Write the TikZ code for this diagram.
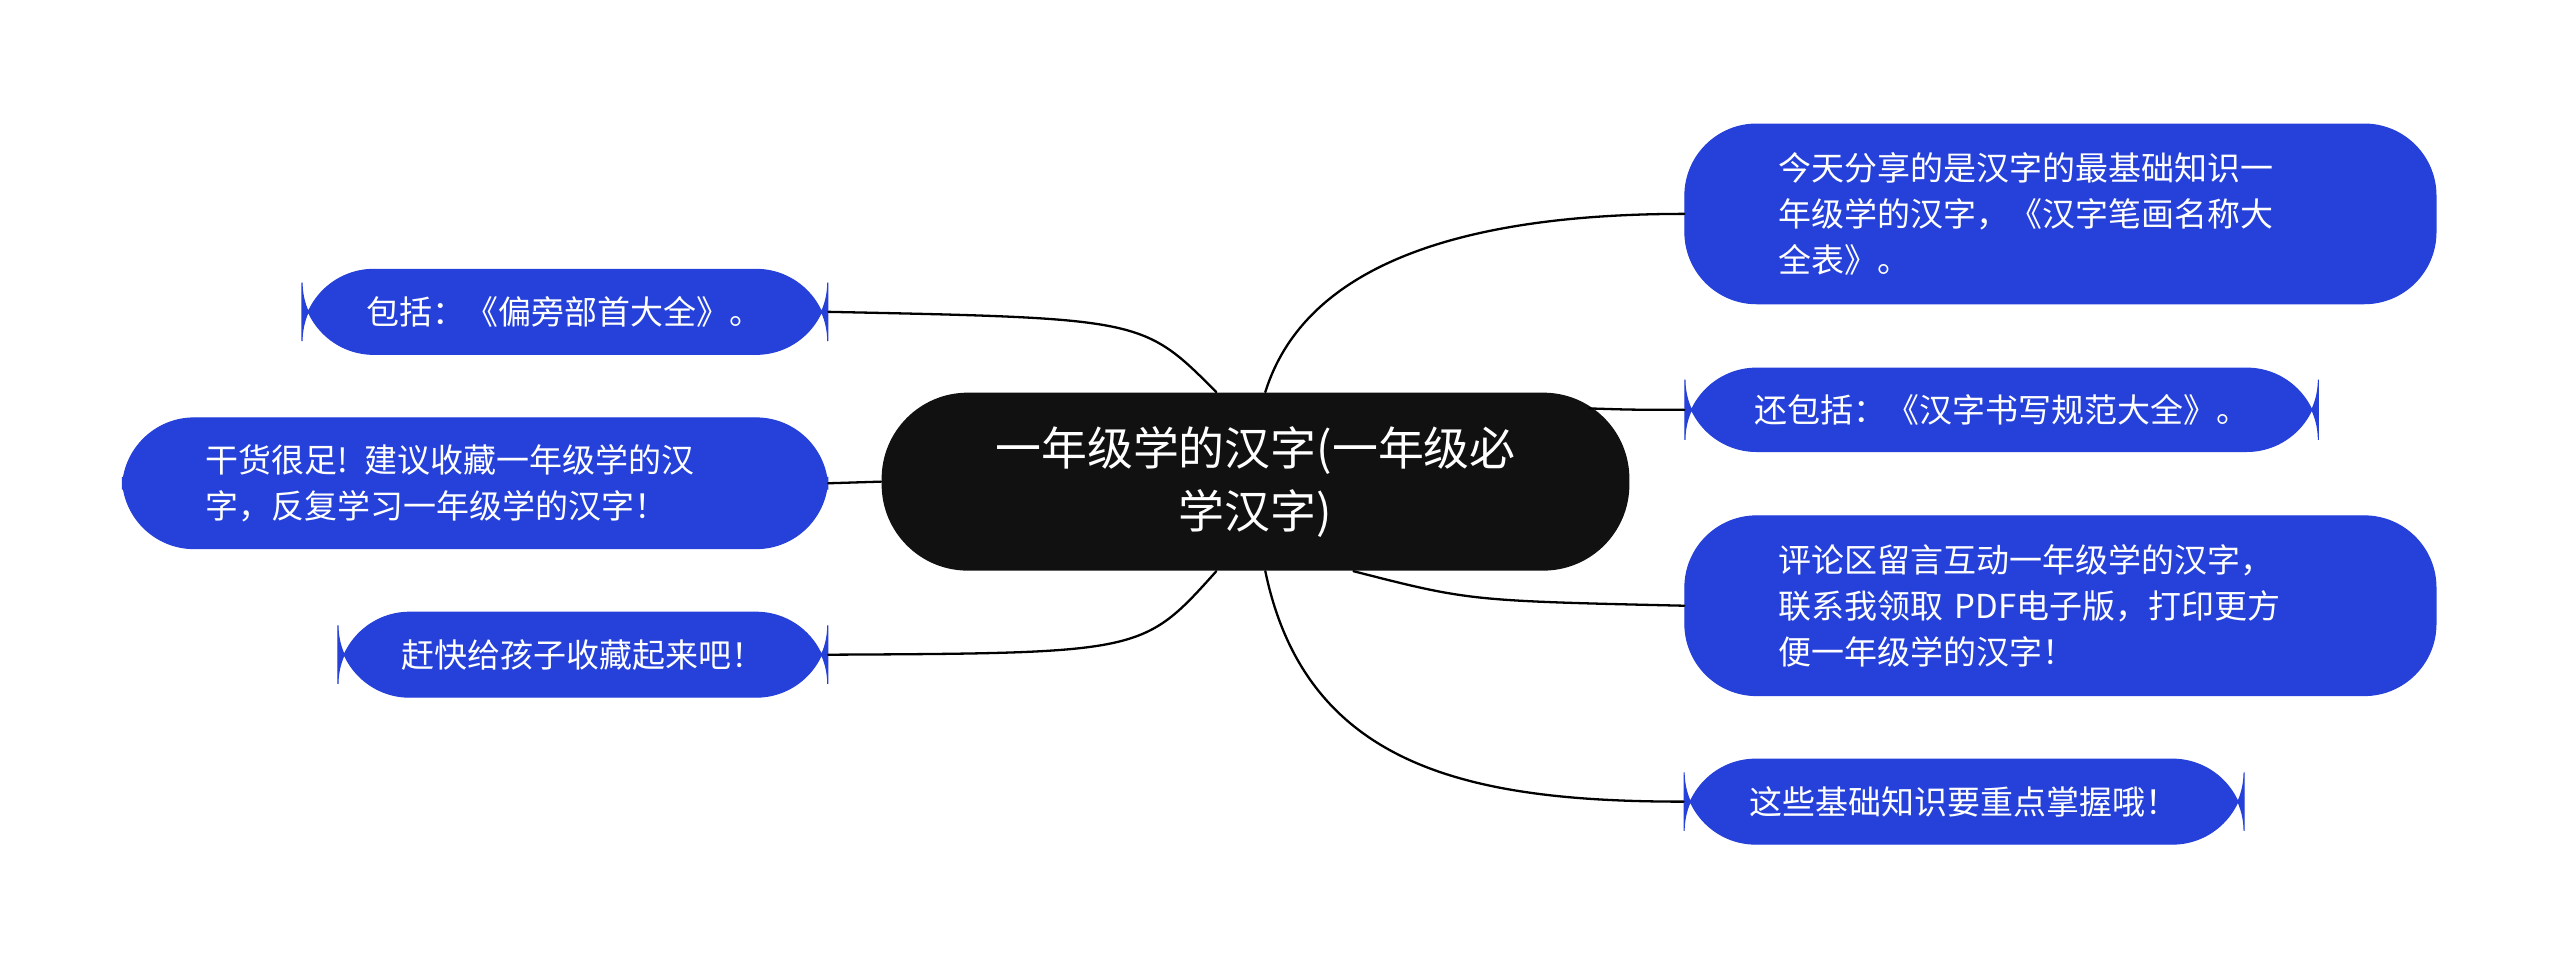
\documentclass[tikz,border=0pt]{standalone}
\usepackage{fontspec}
\setmainfont{Noto Sans CJK SC}
\usetikzlibrary{calc,positioning}
\definecolor{leafblue}{HTML}{2541D9}
\definecolor{rootblack}{HTML}{111111}
\tikzset{
  leaf/.style={fill=leafblue, draw=leafblue, text=white, rounded corners=25pt, font=\fontsize{11.5pt}{16pt}\selectfont, align=left, inner xsep=22pt},
  root/.style={fill=rootblack, text=white, rounded corners=30pt, font=\fontsize{16pt}{22pt}\selectfont, align=center, minimum width=458*0.02cm, minimum height=109*0.02cm},
  link/.style={thick, line cap=round}
}
\begin{document}
\begin{tikzpicture}[x=0.02cm, y=-0.02cm]
\useasboundingbox (0,0) rectangle (1568,592);

%Root
\node[root] (root) at (769,295) {一年级学的汉字(一年级必\\学汉字)};

%Right branches
\node[leaf, minimum width=460*0.02cm, minimum height=110*0.02cm, text width=345*0.02cm] (r1) at (1262,131) {今天分享的是汉字的最基础知识一\\年级学的汉字，《汉字笔画名称大\\全表》。};
\node[leaf, minimum width=388*0.02cm, minimum height=51*0.02cm, inner xsep=12pt] (r2) at (1226,251) {还包括：《汉字书写规范大全》。};
\node[leaf, minimum width=460*0.02cm, minimum height=110*0.02cm, text width=345*0.02cm] (r3) at (1262,371) {评论区留言互动一年级学的汉字，\\联系我领取 PDF电子版，打印更方\\便一年级学的汉字！};
\node[leaf, minimum width=343*0.02cm, minimum height=52*0.02cm, inner xsep=12pt] (r4) at (1203,491) {这些基础知识要重点掌握哦！};

%Left branches
\node[leaf, minimum width=322*0.02cm, minimum height=52*0.02cm, inner xsep=12pt] (l1) at (346,191) {包括：《偏旁部首大全》。};
\node[leaf, minimum width=432*0.02cm, minimum height=80*0.02cm, text width=330*0.02cm] (l2) at (291,296) {干货很足! 建议收藏一年级学的汉\\字，反复学习一年级学的汉字！};
\node[leaf, minimum width=300*0.02cm, minimum height=52*0.02cm, inner xsep=12pt] (l3) at (357,401) {赶快给孩子收藏起来吧！};

%Links
\draw[link] ($(root.north)+(6,0)$) .. controls (800,160) and (900,131) .. (r1.west);
\draw[link] ($(root.north east)+(-25,10)$) .. controls (1000,251) .. (r2.west);
\draw[link] ($(root.south)+(60,0)$) .. controls (900,368) .. (r3.west);
\draw[link] ($(root.south)+(6,0)$) .. controls (800,470) and (900,491) .. (r4.west);
\draw[link] ($(root.north)+(-24,0)$) .. controls (700,195) .. (l1.east);
\draw[link] (root.west) -- (l2.east);
\draw[link] ($(root.south)+(-24,0)$) .. controls (700,400) .. (l3.east);

\end{tikzpicture}
\end{document}
